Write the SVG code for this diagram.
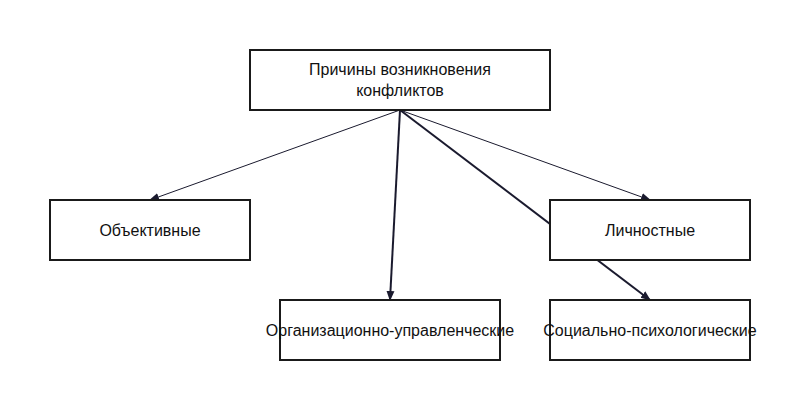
<svg xmlns="http://www.w3.org/2000/svg" width="800" height="400" viewBox="0 0 800 400">
<style>
.box{fill:#fff;stroke:#1a1a1a;stroke-width:2}
text{font-family:"Liberation Sans",Arial,sans-serif;font-size:16px;fill:#111;text-anchor:middle}
.thin{stroke:#1a1a2e;stroke-width:1;fill:none}
.thick{stroke:#1a1a2e;stroke-width:2;fill:none}
</style>
<defs><marker id="a" markerWidth="10" markerHeight="10" refX="9" refY="5" orient="auto" markerUnits="userSpaceOnUse"><path d="M0,1 L10,5 L0,9 Z" fill="#1a1a2e"/></marker></defs>
<rect width="800" height="400" fill="#fff"/>
<g id="connectors">
<line class="thin" x1="400" y1="110" x2="150" y2="200" marker-end="url(#a)"/>
<line class="thin" x1="400" y1="110" x2="650" y2="200" marker-end="url(#a)"/>
<line class="thick" x1="400" y1="110" x2="390" y2="300" marker-end="url(#a)"/>
<line class="thick" x1="400" y1="110" x2="650" y2="300" marker-end="url(#a)"/>
</g>
<g id="root"><rect class="box" x="250" y="50" width="300" height="60"/><text x="400" y="75">Причины возникновения</text><text x="400" y="96">конфликтов</text></g>
<g id="obj"><rect class="box" x="50" y="200" width="200" height="60"/><text x="150" y="236">Объективные</text></g>
<g id="pers"><rect class="box" x="550" y="200" width="200" height="60"/><text x="650" y="236">Личностные</text></g>
<g id="org"><rect class="box" x="280" y="300" width="220" height="60"/><text x="390" y="336">Организационно-управленческие</text></g>
<g id="soc"><rect class="box" x="550" y="300" width="200" height="60"/><text x="650" y="336">Социально-психологические</text></g>
</svg>
